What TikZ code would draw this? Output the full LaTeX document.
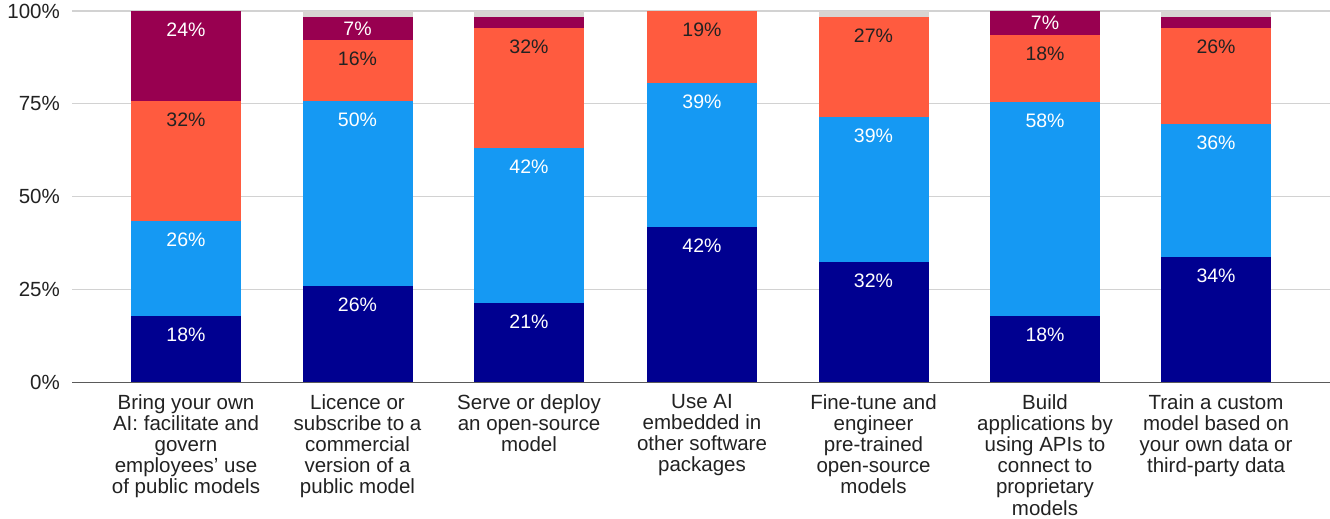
\documentclass[tikz,border=0pt]{standalone}
\usepackage{fontspec}
\setmainfont{Liberation Sans}

\definecolor{cNavy}{HTML}{000090}
\definecolor{cBlue}{HTML}{1599F3}
\definecolor{cOrange}{HTML}{FF5B3F}
\definecolor{cMaroon}{HTML}{980050}
\definecolor{cCap}{HTML}{D8D5D2}
\definecolor{cGrid}{HTML}{D2D2D2}
\definecolor{cAxis}{HTML}{5A5A5A}
\definecolor{cText}{HTML}{222222}

% one stacked segment: name, x centre, lower %, upper %, fill, label, label colour
\newcommand\barpart[7]{%
  \node[segbox, fill=#5, minimum height={3.71*(#4-#3)}, anchor=south]
    (#1) at (#2,{382-3.71*#3}) {};
  \node[vallabel, text=#7] (#1-v)
    at (#2,{min(382-3.71*#4+18.5, 382-1.855*(#3+#4))}) {#6};
}
% unlabelled grey remainder at the top of a bar
\newcommand\barcap[3]{%
  \node[segbox, fill=cCap, minimum height={3.71*(100-#3)}, anchor=south]
    (#1) at (#2,{382-3.71*#3}) {};
}

\begin{document}
\begin{tikzpicture}[x=1pt,y=-1pt,
  segbox/.style={rectangle, draw=none, inner sep=0pt, outer sep=0pt, minimum width=110pt},
  vallabel/.style={inner sep=0pt, font=\fontsize{19.5}{22}\selectfont},
  ticklabel/.style={anchor=east, inner sep=0pt, text=cText, font=\fontsize{20.5}{22}\selectfont},
  catlabel/.style={anchor=north, align=center, inner sep=0pt, text=cText,
    font=\fontsize{20.5}{21.2}\selectfont},
  gridline/.style={draw=cGrid, line width=1.3pt},
  axisline/.style={draw=cAxis, line width=1.6pt}]

\useasboundingbox (0,0) rectangle (1330,519);
\fill[white] (0,0) rectangle (1330,519);

% horizontal grid
\foreach \p in {25,50,75,100}
  \draw[gridline] (72,{382-3.71*\p}) -- (1330,{382-3.71*\p});
\draw[axisline] (72,382.5) -- (1330,382.5);

% value axis
\node[ticklabel] (t0)   at (60,382) {0\%};
\node[ticklabel] (t25)  at (60,{382-3.71*25}) {25\%};
\node[ticklabel] (t50)  at (60,{382-3.71*50}) {50\%};
\node[ticklabel] (t75)  at (60,{382-3.71*75}) {75\%};
\node[ticklabel] (t100) at (60,11) {100\%};

% bar 1
\barpart{b1a}{186}{0}{17.8}{cNavy}{18\%}{white}
\barpart{b1b}{186}{17.8}{43.3}{cBlue}{26\%}{white}
\barpart{b1c}{186}{43.3}{75.7}{cOrange}{32\%}{cText}
\barpart{b1d}{186}{75.7}{100}{cMaroon}{24\%}{white}

% bar 2
\barpart{b2a}{357.5}{0}{25.9}{cNavy}{26\%}{white}
\barpart{b2b}{357.5}{25.9}{75.7}{cBlue}{50\%}{white}
\barpart{b2c}{357.5}{75.7}{92.1}{cOrange}{16\%}{cText}
\barpart{b2d}{357.5}{92.1}{98.3}{cMaroon}{7\%}{white}
\barcap{b2e}{357.5}{98.3}

% bar 3
\barpart{b3a}{529}{0}{21.3}{cNavy}{21\%}{white}
\barpart{b3b}{529}{21.3}{63.1}{cBlue}{42\%}{white}
\barpart{b3c}{529}{63.1}{95.3}{cOrange}{32\%}{cText}
\node[segbox, fill=cMaroon, minimum height={3.71*3}, anchor=south]
  (b3d) at (529,{382-3.71*95.3}) {};
\barcap{b3e}{529}{98.3}

% bar 4
\barpart{b4a}{702}{0}{41.8}{cNavy}{42\%}{white}
\barpart{b4b}{702}{41.8}{80.5}{cBlue}{39\%}{white}
\barpart{b4c}{702}{80.5}{100}{cOrange}{19\%}{cText}

% bar 5
\barpart{b5a}{873.5}{0}{32.3}{cNavy}{32\%}{white}
\barpart{b5b}{873.5}{32.3}{71.4}{cBlue}{39\%}{white}
\barpart{b5c}{873.5}{71.4}{98.3}{cOrange}{27\%}{cText}
\barcap{b5d}{873.5}{98.3}

% bar 6
\barpart{b6a}{1045}{0}{17.8}{cNavy}{18\%}{white}
\barpart{b6b}{1045}{17.8}{75.5}{cBlue}{58\%}{white}
\barpart{b6c}{1045}{75.5}{93.5}{cOrange}{18\%}{cText}
\barpart{b6d}{1045}{93.5}{100}{cMaroon}{7\%}{white}

% bar 7
\barpart{b7a}{1216}{0}{33.7}{cNavy}{34\%}{white}
\barpart{b7b}{1216}{33.7}{69.5}{cBlue}{36\%}{white}
\barpart{b7c}{1216}{69.5}{95.3}{cOrange}{26\%}{cText}
\node[segbox, fill=cMaroon, minimum height={3.71*3}, anchor=south]
  (b7d) at (1216,{382-3.71*95.3}) {};
\barcap{b7e}{1216}{98.3}

% category labels
\node[catlabel] (c1) at (186,394)
  {Bring your own\\AI: facilitate and\\govern\\employees’ use\\of public models};
\node[catlabel] (c2) at (357.5,394)
  {Licence or\\subscribe to a\\commercial\\version of a\\public model};
\node[catlabel] (c3) at (529,394)
  {Serve or deploy\\an open-source\\model};
\node[catlabel] (c4) at (702,394)
  {Use AI\\embedded in\\other software\\packages};
\node[catlabel] (c5) at (873.5,394)
  {Fine-tune and\\engineer\\pre-trained\\open-source\\models};
\node[catlabel] (c6) at (1045,394)
  {Build\\applications by\\using APIs to\\connect to\\proprietary\\models};
\node[catlabel] (c7) at (1216,394)
  {Train a custom\\model based on\\your own data or\\third-party data};

\end{tikzpicture}
\end{document}
